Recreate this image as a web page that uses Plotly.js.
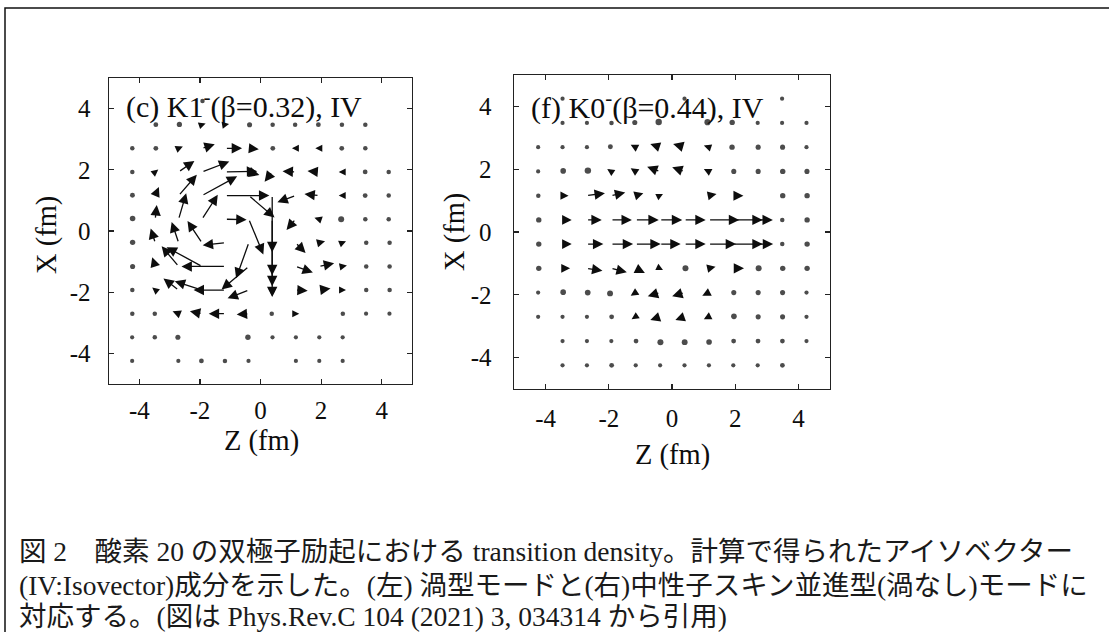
<!DOCTYPE html>
<html><head><meta charset="utf-8">
<script src="https://cdn.plot.ly/plotly-3.0.1.min.js"></script>
<style>html,body{margin:0;padding:0;background:#fff}#chart{width:1109px;height:632px}</style>
</head><body><div id="chart"></div>
<script>
// grid (fm): Z columns left->right, X rows top->bottom
const gridZ = [-4.246,-3.474,-2.702,-1.930,-1.158,-0.386,0.386,1.158,1.930,2.702,3.474,4.246];
const gridX = [4.246,3.474,2.702,1.930,1.158,0.386,-0.386,-1.158,-1.930,-2.702,-3.474,-4.246];
const tickVals = [-4,-2,0,2,4];
const tickText = ['-4','-2','0','2','4'];

// (c) K1- (beta=0.32), IV : vector components dZ, dX (fm)
const leftDZ = [
 [0,0,0,0.03,0,0,0,0,0,0,0,0],
 [0,0.04,0.05,0.12,0.12,0.05,0.03,-0.03,-0.04,-0.03,-0.03,0],
 [0.03,0.04,0.14,0.42,0.55,0.33,0.04,-0.12,-0.12,-0.04,-0.03,0],
 [0.03,0.1,0.52,0.9,1.05,0.35,-0.25,-0.43,-0.38,-0.12,-0.04,-0.03],
 [0.04,0.12,0.6,1.16,1.45,0.85,0,-0.6,-0.48,-0.12,-0.04,-0.03],
 [0.05,0.05,0.25,0.52,0.7,0.48,0,-0.3,-0.15,-0.08,-0.03,-0.03],
 [0.05,-0.15,-0.23,-0.48,-0.75,-0.42,0,0.33,0.2,0.12,0.03,0.03],
 [0.05,-0.1,-0.56,-1.17,-1.45,-0.9,0,0.57,0.5,0.15,0.03,0.03],
 [0.03,-0.1,-0.5,-0.9,-1.05,-0.7,0,0.4,0.38,0.12,0.03,0.03],
 [0.03,-0.03,-0.2,-0.4,-0.55,-0.4,-0.03,0.12,0.1,0.03,0.02,0.02],
 [0.02,-0.03,-0.05,-0.1,-0.1,-0.06,0.02,0.02,0.02,0.02,0,0],
 [0.02,0,-0.02,-0.04,-0.03,-0.02,0,0.02,0.02,0.02,0,0]
];
const leftDX = [
 [0,0,0,0,0,0,0,0,0,0,0,0],
 [0,0,0.02,0.04,0.02,0,0,0,0,0,0,0],
 [0,0,0.06,0.13,0,-0.03,0,0,0,0,0,0],
 [0,0.08,0.36,0.34,0.02,-0.1,-0.32,0.02,0.03,0,0,0],
 [0.02,0.28,0.68,0.63,0,-0.72,-1.85,-0.22,0.05,0,0,0],
 [0.04,0.46,0.85,0.8,-0.02,-1.15,-1.83,-0.35,0.05,0,0,0],
 [0.03,0.47,0.68,0.71,-0.08,-1.16,-1.42,-0.33,0.05,0.05,0,0],
 [0,0.3,0.66,0.63,0,-0.75,-1.0,-0.2,0.1,0.03,0,0],
 [0,0.08,0.38,0.29,0,-0.27,-0.2,-0.02,0.05,0,0,0],
 [0,0,0.08,0.08,0,-0.03,0,0,0.03,0,0,0],
 [0,0,0,0.03,0,0,0,0,0,0,0,0],
 [0,0,0,0,0,0,0,0,0,0,0,0]
];

// (f) K0- (beta=0.44), IV : vector components dZ, dX (fm)
const rightDZ = [
 [0,0.02,0,0,0,0,0.02,0,0,0,0.02,0],
 [0,0.02,0.02,0.03,-0.04,-0.07,-0.08,-0.07,-0.05,0.02,0.02,0.02],
 [0.02,0.02,0.02,-0.04,-0.15,-0.3,-0.35,-0.15,-0.06,0.05,0.05,0.02],
 [0.02,0.06,0.08,-0.12,-0.15,-0.4,-0.38,-0.15,0.05,0.05,0.06,0.05],
 [0.03,0.2,0.58,0.45,0.25,0.1,0.1,0.25,0.33,0.1,0.06,0.06],
 [0.06,0.3,0.48,0.66,0.74,0.71,0.68,0.97,0.94,0.49,0.03,0.06],
 [0.06,0.3,0.53,0.7,0.8,0.66,0.68,0.87,0.94,0.5,0.03,0.06],
 [0.06,0.25,0.5,0.5,0.3,0.1,0.08,0.22,0.35,0.08,0.06,0.06],
 [0.02,0.06,0.07,-0.06,-0.15,-0.38,-0.38,-0.2,0.05,0.05,0.05,0.02],
 [0.02,0.02,0.02,0.04,-0.12,-0.3,-0.28,-0.15,0.06,0.05,0.05,0.02],
 [0,0.02,0.02,0.02,0.04,0.04,0.03,0.03,0.04,0.04,0.04,0.02],
 [0,0.02,0.02,0.04,0.02,0.02,0.02,0.02,0.02,0.02,0.04,0]
];
const rightDX = [
 [0,0,0,0,0,0,0,0,0,0,0,0],
 [0,0,0,0,0.03,0.06,0.07,0.05,0.03,0,0,0],
 [0,0,0,0.02,0.08,0.1,0.1,0.05,0,0,0,0],
 [0,0.03,0.05,0.08,0.1,0.15,0.13,0.08,0,0,0,0],
 [0,0,0.08,0.1,0.08,0.05,0.03,0.05,0,0,0,0],
 [0,0,0,0,0,0,0,0,0,0,0,0],
 [0,0,0,0,0,0,0,0,0,0,0,0],
 [0,0,-0.08,-0.12,-0.15,-0.05,0,0.05,0,0,0,0],
 [0,0.03,0,-0.05,-0.1,-0.12,-0.12,-0.1,0,0,0,0],
 [0,0,0,0,-0.08,-0.1,-0.1,-0.08,0.03,0,0,0],
 [0,0,0,0,0,-0.07,-0.07,-0.06,0,0,0,0],
 [0,0,0,0,0,0,0,0,0,0,0,0]
];

const leftLabel = '(c) K1<sup>-</sup>(β=0.32), IV';
const rightLabel = '(f) K0<sup>-</sup>(β=0.44), IV';
const axisTitleZ = 'Z (fm)';
const axisTitleX = 'X (fm)';
const captionLines = [
 '図 2　酸素 20 の双極子励起における transition density。計算で得られたアイソベクター',
 '(IV:Isovector)成分を示した。(左) 渦型モードと(右)中性子スキン並進型(渦なし)モードに',
 '対応する。(図は Phys.Rev.C 104 (2021) 3, 034314 から引用)'
];

const INK = '#0d0d0d';
const SERIF = '"Liberation Serif","Times New Roman","Noto Sans CJK JP",serif';

function buildPanel(DZ, DX, xr, yr) {
  const dz0 = [], dx0 = [], ds = [], anns = [];
  for (let r = 0; r < gridX.length; r++) {
    for (let c = 0; c < gridZ.length; c++) {
      const dz = DZ[r][c], dx = DX[r][c];
      const len = Math.hypot(dz, dx);
      if (len === 0) continue;
      const z0 = gridZ[c], x0 = gridX[r];
      if (len < 0.1) {
        dz0.push(z0 + dz / 2); dx0.push(x0 + dx / 2); ds.push(3.6 + 30 * len);
      } else {
        anns.push({
          xref: xr, yref: yr, axref: xr, ayref: yr,
          x: z0 + dz, y: x0 + dx, ax: z0, ay: x0,
          text: '', showarrow: true, arrowhead: 2,
          arrowwidth: 1.3, arrowsize: 1.6 * Math.min(1, 0.5 + 1.4 * len),
          arrowcolor: INK, standoff: 0, startstandoff: 0
        });
      }
    }
  }
  const trace = {
    type: 'scatter', mode: 'markers', x: dz0, y: dx0,
    xaxis: xr, yaxis: yr, hoverinfo: 'skip',
    marker: {size: ds, color: '#000', line: {width: 0}}
  };
  return {trace, anns};
}

const L = buildPanel(leftDZ, leftDX, 'x', 'y');
const R = buildPanel(rightDZ, rightDX, 'x2', 'y2');

function axis(domain, anchor, standoff) {
  return {
    domain: domain, anchor: anchor, range: [-5, 5],
    tickmode: 'array', tickvals: tickVals, ticktext: tickText,
    ticks: 'inside', ticklen: 5, tickwidth: 1.2, tickcolor: '#222',
    showline: true, linecolor: '#222', linewidth: 1.4, mirror: 'ticks',
    showgrid: false, zeroline: false, fixedrange: true,
    ticklabelstandoff: standoff,
    tickfont: {family: SERIF, size: 25, color: INK}
  };
}

const W = 1109, H = 632;
const px = v => v / W, py = v => (H - v) / H;

const textAnns = [
  {xref:'paper', yref:'paper', x: px(124), y: py(104), xanchor:'left', yanchor:'middle', text: leftLabel, showarrow:false, font:{family:SERIF, size:30, color:INK}},
  {xref:'paper', yref:'paper', x: px(529), y: py(105), xanchor:'left', yanchor:'middle', text: rightLabel, showarrow:false, font:{family:SERIF, size:30, color:INK}},
  {xref:'paper', yref:'paper', x: px(261), y: py(441), xanchor:'center', yanchor:'middle', text: axisTitleZ, showarrow:false, font:{family:SERIF, size:28.5, color:INK}},
  {xref:'paper', yref:'paper', x: px(672), y: py(455), xanchor:'center', yanchor:'middle', text: axisTitleZ, showarrow:false, font:{family:SERIF, size:28.5, color:INK}},
  {xref:'paper', yref:'paper', x: px(47), y: py(235), xanchor:'center', yanchor:'middle', textangle:-90, text: axisTitleX, showarrow:false, font:{family:SERIF, size:28.5, color:INK}},
  {xref:'paper', yref:'paper', x: px(455), y: py(232), xanchor:'center', yanchor:'middle', textangle:-90, text: axisTitleX, showarrow:false, font:{family:SERIF, size:28.5, color:INK}}
];
const capY = [551, 585, 616];
captionLines.forEach((t, i) => textAnns.push({
  xref:'paper', yref:'paper', x: px(17), y: py(capY[i]), xanchor:'left', yanchor:'middle',
  text: t, showarrow:false, font:{family:SERIF, size:27.5, color:'#1a1a1a'}
}));

const layout = {
  width: W, height: H, margin: {l:0, r:0, t:0, b:0},
  paper_bgcolor: '#ffffff', plot_bgcolor: 'rgba(0,0,0,0)',
  font: {family: SERIF, size: 24, color: INK},
  showlegend: false, hovermode: false,
  xaxis: axis([px(109), px(412)], 'y', 4),
  yaxis: axis([py(384), py(78)], 'x', 12),
  xaxis2: axis([px(514), px(830)], 'y2', 7),
  yaxis2: axis([py(389), py(75)], 'x2', 16),
  annotations: L.anns.concat(R.anns, textAnns),
  shapes: [{type:'rect', xref:'paper', yref:'paper', x0: px(5), x1: 1.05, y0: -0.1, y1: py(8),
            line:{color:'#111', width:1.5}, fillcolor:'rgba(0,0,0,0)', layer:'below'}]
};

Plotly.newPlot('chart', [L.trace, R.trace], layout, {displayModeBar:false, staticPlot:true});
</script>
</body></html>
